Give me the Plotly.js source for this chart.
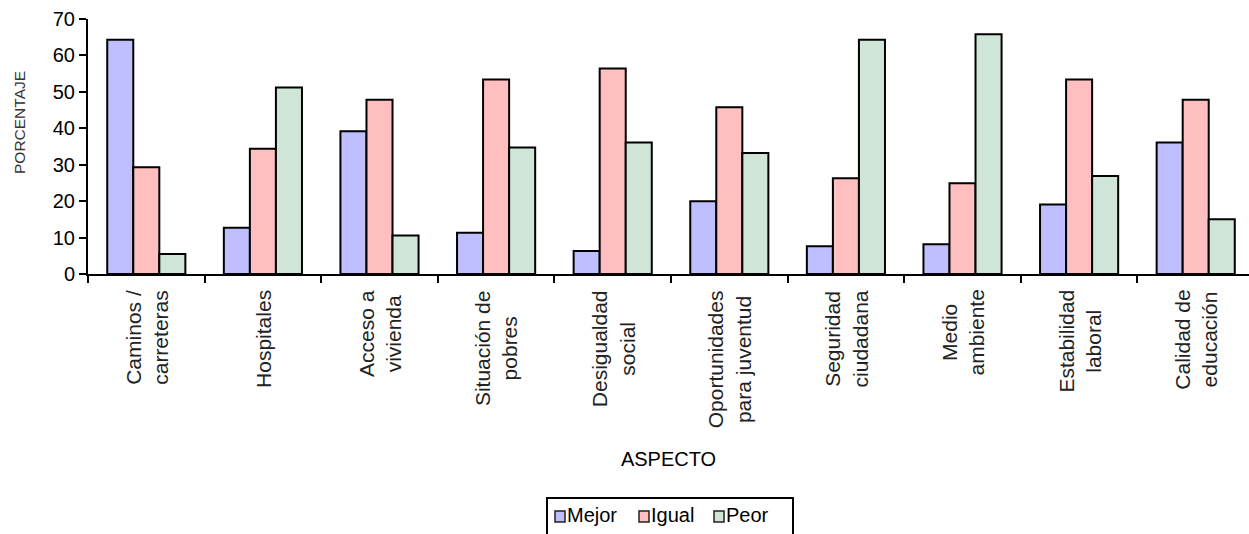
<!DOCTYPE html>
<html>
<head>
<meta charset="utf-8">
<script src="https://cdn.plot.ly/plotly-3.0.1.min.js"></script>
<style>
  html, body { margin: 0; padding: 0; background: #fff; }
  #chart { width: 1249px; height: 534px; }
</style>
</head>
<body>
<div id="chart"></div>
<script>
// Aspects evaluated (line breaks used for the vertical labels)
const aspectos = [
  "Caminos /<br>carreteras",
  "Hospitales",
  "Acceso a<br>vivienda",
  "Situación de<br>pobres",
  "Desigualdad<br>social",
  "Oportunidades<br>para juventud",
  "Seguridad<br>ciudadana",
  "Medio<br>ambiente",
  "Estabilidad<br>laboral",
  "Calidad de<br>educación"
];

// Percentage of answers per aspect
const mejor = [64.3, 12.7, 39.2, 11.3, 6.3, 20.0, 7.6, 8.2, 19.1, 36.1];
const igual = [29.3, 34.4, 47.8, 53.4, 56.4, 45.8, 26.3, 24.9, 53.4, 47.8];
const peor  = [5.5, 51.2, 10.6, 34.7, 36.1, 33.2, 64.3, 65.8, 26.9, 15.0];

const seriesNames = ["Mejor", "Igual", "Peor"];
const yTicks = [0, 10, 20, 30, 40, 50, 60, 70];

const seriesColors = ["#BFBFFF", "#FFBFBF", "#CFE5D8"];
const FONT = "Liberation Sans, Arial, sans-serif";

// Plot area in pixels, used to place the legend and y title in paper units
const PL = 88, PT = 19, PW = 1161, PH = 255;
const px = v => (v - PL) / PW;
const py = v => (PT + PH - v) / PH;

const seriesValues = [mejor, igual, peor];
const data = seriesNames.map((name, i) => ({
  type: "bar",
  name: name,
  x: aspectos,
  y: seriesValues[i],
  marker: { color: seriesColors[i], line: { color: "#000", width: 2 } },
  showlegend: false
}));

// Category labels drawn vertically, lines centred on each other
const annotations = aspectos.map(a => ({
  x: a, xref: "x",
  y: 0, yref: "paper",
  text: a,
  textangle: -90,
  showarrow: false,
  xanchor: "center",
  yanchor: "top",
  yshift: -14,
  align: "center",
  font: { family: FONT, size: 21, color: "#222" }
}));

// Y axis title
annotations.push({
  x: px(19), xref: "paper",
  y: py(123), yref: "paper",
  text: "PORCENTAJE",
  textangle: -90,
  showarrow: false,
  xanchor: "center",
  yanchor: "middle",
  font: { family: FONT, size: 15.5, color: "#333" }
});

// Legend: framed row of swatches and names below the axis title
const shapes = [{
  type: "rect", xref: "paper", yref: "paper",
  x0: px(547), x1: px(793), y0: py(498), y1: py(570),
  line: { color: "#000", width: 2 },
  fillcolor: "#fff",
  layer: "above"
}];
const legendX = [555, 639, 714];
seriesNames.forEach((name, i) => {
  shapes.push({
    type: "rect", xref: "paper", yref: "paper",
    x0: px(legendX[i]), x1: px(legendX[i] + 10),
    y0: py(511), y1: py(522),
    line: { color: "#222", width: 1.5 },
    fillcolor: seriesColors[i],
    layer: "above"
  });
  annotations.push({
    x: px(legendX[i] + 12), xref: "paper",
    y: py(515), yref: "paper",
    text: name,
    showarrow: false,
    xanchor: "left",
    yanchor: "middle",
    xshift: -2,
    font: { family: FONT, size: 20, color: "#000" }
  });
});

const layout = {
  width: 1249,
  height: 534,
  margin: { l: PL, r: 1249 - PL - PW, t: PT, b: 534 - PT - PH, autoexpand: false },
  paper_bgcolor: "#fff",
  plot_bgcolor: "#fff",
  font: { family: FONT, color: "#000" },
  showlegend: false,
  bargap: 0.33,
  bargroupgap: 0,
  barmode: "group",
  xaxis: {
    type: "category",
    range: [-0.5, 9.457],
    showline: true,
    linecolor: "#000",
    linewidth: 2,
    ticks: "outside",
    tickson: "boundaries",
    ticklen: 7,
    tickwidth: 2,
    tickcolor: "#000",
    showticklabels: false,
    showgrid: false,
    zeroline: false,
    title: {
      text: "ASPECTO",
      font: { family: FONT, size: 20, color: "#000" },
      standoff: 177
    }
  },
  yaxis: {
    range: [0, 70],
    tickvals: yTicks,
    ticktext: yTicks.map(String),
    showline: true,
    linecolor: "#000",
    linewidth: 2,
    ticks: "outside",
    ticklen: 7,
    tickwidth: 2,
    tickcolor: "#000",
    tickfont: { family: FONT, size: 20, color: "#000" },
    showgrid: false,
    zeroline: false
  },
  shapes: shapes,
  annotations: annotations
};

Plotly.newPlot("chart", data, layout, { displayModeBar: false, staticPlot: true });
</script>
</body>
</html>
